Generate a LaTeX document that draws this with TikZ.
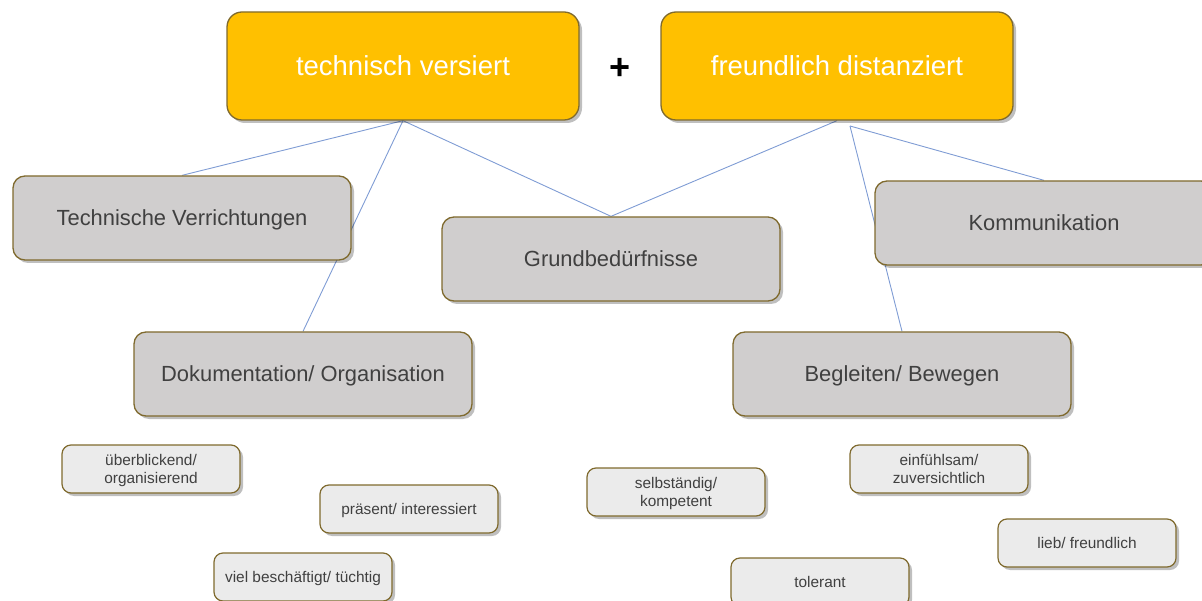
\documentclass[tikz,border=0pt]{standalone}
\usepackage{fontspec}
\setmainfont{Liberation Sans}
\usetikzlibrary{positioning, shadows, backgrounds}
\definecolor{kernGold}{HTML}{FFC000}
\definecolor{kernEdge}{HTML}{7F6A2E}
\definecolor{taskGray}{HTML}{D0CECE}
\definecolor{traitGray}{HTML}{EBEBEB}
\definecolor{textDark}{HTML}{404040}
\definecolor{linkBlue}{HTML}{7F9CD4}
\tikzset{
  linkL/.style={color=linkBlue, line width=0.9pt},
  boxShadow/.style={drop shadow={shadow xshift=3pt, shadow yshift=-3pt,
                    opacity=0.25, fill=black}},
  boxTop/.style={rectangle, rounded corners=15pt, draw=kernEdge, line width=1.3pt,
                 fill=kernGold, text=white, font=\fontsize{27.5}{33}\selectfont,
                 text depth=0pt, minimum width=352pt, minimum height=108pt, boxShadow},
  boxTask/.style={rectangle, rounded corners=12pt, draw=kernEdge, line width=1.3pt,
                  fill=taskGray, text=textDark, font=\fontsize{21.9}{26}\selectfont,
                  text depth=0pt, minimum width=338pt, minimum height=84pt, boxShadow},
  boxTrait/.style={rectangle, rounded corners=9pt, draw=kernEdge, line width=1.2pt,
                   fill=traitGray, text=textDark, align=center,
                   font=\fontsize{15.4}{18.5}\selectfont, text depth=0pt,
                   minimum width=178pt, minimum height=48pt, boxShadow},
}
\begin{document}
\begin{tikzpicture}[x=1pt, y=-1pt]
    \clip (0,0) rectangle (1202,601);
    % Haltungen
    \node[boxTop] (tv) at (403,66) {technisch versiert};
    \node[boxTop] (fd) at (837,66) {freundlich distanziert};
    \node[font=\bfseries\fontsize{36}{40}\selectfont] (plus) at (620,69) {+};
    % Taetigkeiten
    \node[boxTask] (tech) at (182,218) {Technische Verrichtungen};
    \node[boxTask] (grund) at (611,259) {Grundbedürfnisse};
    \node[boxTask] (komm) at (1044,223) {Kommunikation};
    \node[boxTask] (doku) at (303,374) {Dokumentation/ Organisation};
    \node[boxTask] (begl) at (902,374) {Begleiten/ Bewegen};
    % Eigenschaften
    \node[boxTrait] (ueber) at (151,469) {überblickend/\\organisierend};
    \node[boxTrait] (praes) at (409,509) {präsent/ interessiert};
    \node[boxTrait] (viel) at (303,577) {viel beschäftigt/ tüchtig};
    \node[boxTrait] (selb) at (676,492) {selbständig/\\kompetent};
    \node[boxTrait] (tol) at (820,582) {tolerant};
    \node[boxTrait] (einf) at (939,469) {einfühlsam/\\zuversichtlich};
    \node[boxTrait] (lieb) at (1087,543) {lieb/ freundlich};
    \coordinate (fdj) at (850,126);
    \begin{scope}[on background layer]
      \draw[linkL] (tv.south)--(tech.north); \draw[linkL] (tv.south)--(doku.north);
      \draw[linkL] (tv.south)--(grund.north);
      \draw[linkL] (fd.south)--(grund.north); \draw[linkL] (fdj)--(komm.north);
      \draw[linkL] (fdj)--(begl.north);
    \end{scope}
  \end{tikzpicture}
\end{document}
